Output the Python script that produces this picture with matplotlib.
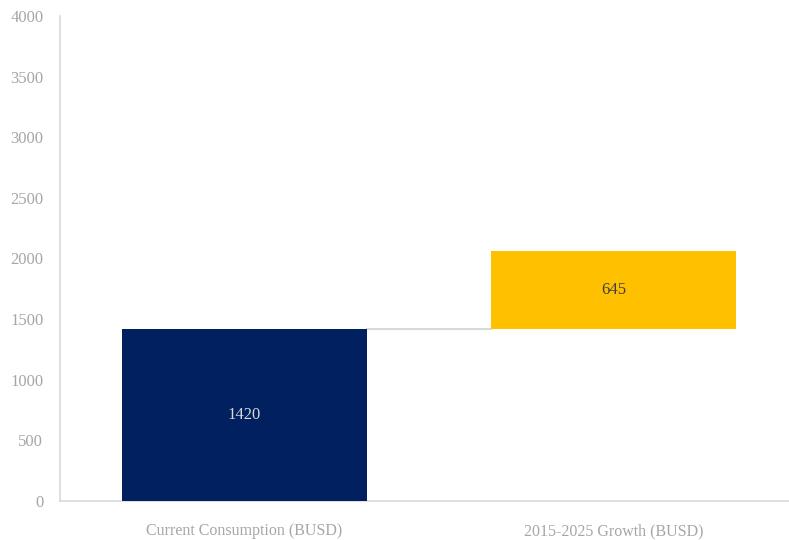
import matplotlib.pyplot as plt

categories = ['Current Consumption (BUSD)', '2015-2025 Growth (BUSD)']
values = [1420, 645]
bases = [0, 1420]
colors = ['#002060', '#FFC000']
label_colors = ['#D9D9D9', '#404040']
yticks = [0, 500, 1000, 1500, 2000, 2500, 3000, 3500, 4000]

plt.rcParams['font.family'] = ['Liberation Serif', 'DejaVu Serif']

fig = plt.figure(figsize=(7.89, 5.4), dpi=100)
ax = fig.add_axes([0.076, 0.0722, 0.924, 0.8982])

x = list(range(len(categories)))
w = 0.664
ax.bar(x, values, bottom=bases, width=w, color=colors, zorder=3)

# connector between bars
ax.plot([x[0] + w / 2, x[1] - w / 2], [bases[1], bases[1]],
        color='#D9D9D9', lw=1.5, zorder=2)

for i in x:
    ax.text(i, bases[i] + values[i] / 2, str(values[i]), ha='center', va='center',
            fontsize=12, color=label_colors[i])

ax.set_xlim(-0.5, 1.476)
ax.set_ylim(0, 4000)
ax.set_yticks(yticks)
ax.set_xticks(x)
ax.set_xticklabels(categories)
ax.tick_params(axis='both', length=0, labelsize=12, colors='#A6A6A6')
ax.tick_params(axis='x', pad=16, labelsize=11.5)
ax.tick_params(axis='y', pad=12)
for s in ['top', 'right']:
    ax.spines[s].set_visible(False)
for s in ['left', 'bottom']:
    ax.spines[s].set_color('#D9D9D9')
    ax.spines[s].set_linewidth(1.2)

fig.savefig('out.png', dpi=100)
